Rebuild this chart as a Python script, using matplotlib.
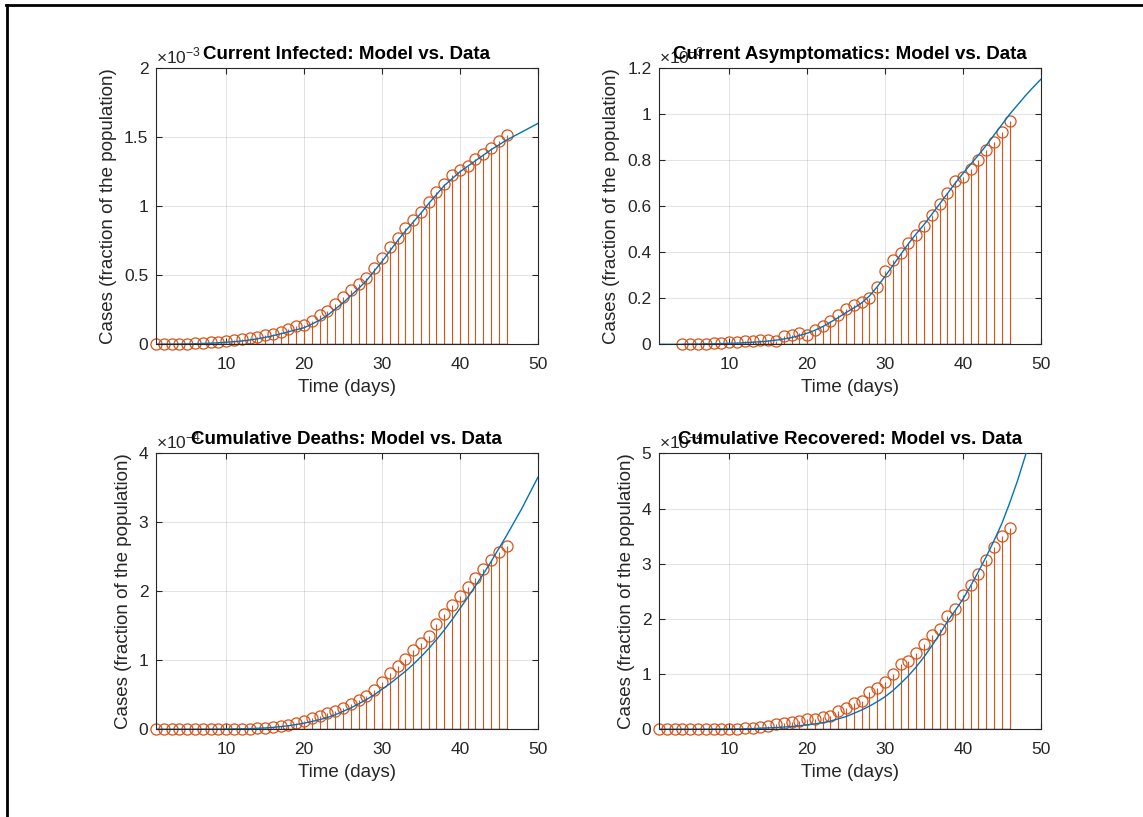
import numpy as np
import matplotlib
matplotlib.use("Agg")
import matplotlib.pyplot as plt
from matplotlib.lines import Line2D
from matplotlib.ticker import FuncFormatter

plt.rcParams['font.family'] = ['Liberation Sans', 'DejaVu Sans']
plt.rcParams['mathtext.fontset'] = 'custom'
plt.rcParams['mathtext.rm'] = 'Liberation Sans'

# Observed data (scaled units, see *_scale)
days_all = np.arange(1, 47)
days_asym = np.arange(4, 47)
days_model = np.arange(1, 51)

infected_scale = 1e-3
infected_data = [0.000, 0.000, 0.000, 0.002, 0.005, 0.006, 0.010, 0.015, 0.020, 0.025,
                 0.030, 0.040, 0.045, 0.055, 0.065, 0.077, 0.090, 0.110, 0.133, 0.140,
                 0.170, 0.210, 0.240, 0.290, 0.340, 0.390, 0.435, 0.480, 0.550, 0.625,
                 0.705, 0.770, 0.840, 0.900, 0.960, 1.030, 1.100, 1.160, 1.230, 1.260,
                 1.290, 1.340, 1.380, 1.425, 1.470, 1.520]
infected_model = [0.000, 0.001, 0.001, 0.002, 0.003, 0.004, 0.006, 0.008, 0.011, 0.015,
                  0.019, 0.024, 0.031, 0.040, 0.050, 0.062, 0.076, 0.091, 0.105, 0.120,
                  0.146, 0.175, 0.210, 0.255, 0.300, 0.352, 0.405, 0.460, 0.530, 0.600,
                  0.675, 0.750, 0.820, 0.885, 0.950, 1.020, 1.085, 1.150, 1.200, 1.250,
                  1.290, 1.330, 1.370, 1.410, 1.445, 1.480, 1.510, 1.540, 1.570, 1.600]

asym_scale = 1e-3
asym_data = [0.000, 0.001, 0.001, 0.003, 0.004, 0.006, 0.009, 0.012, 0.015, 0.016,
             0.017, 0.017, 0.016, 0.035, 0.040, 0.050, 0.040, 0.060, 0.081, 0.100,
             0.126, 0.152, 0.170, 0.183, 0.200, 0.248, 0.320, 0.367, 0.396, 0.440,
             0.475, 0.515, 0.560, 0.610, 0.657, 0.709, 0.729, 0.760, 0.803, 0.843,
             0.878, 0.922, 0.972]
asym_model = [0.000, 0.000, 0.000, 0.000, 0.001, 0.001, 0.002, 0.002, 0.003, 0.004,
              0.005, 0.007, 0.009, 0.011, 0.014, 0.018, 0.023, 0.029, 0.038, 0.048,
              0.061, 0.077, 0.096, 0.116, 0.138, 0.158, 0.180, 0.210, 0.250, 0.295,
              0.342, 0.390, 0.437, 0.480, 0.520, 0.565, 0.610, 0.655, 0.700, 0.743,
              0.783, 0.823, 0.865, 0.910, 0.955, 1.000, 1.040, 1.080, 1.117, 1.152]

deaths_scale = 1e-4
deaths_data = [0.000, 0.000, 0.000, 0.000, 0.000, 0.000, 0.003, 0.003, 0.005, 0.005,
               0.005, 0.010, 0.012, 0.015, 0.025, 0.035, 0.050, 0.070, 0.090, 0.120,
               0.160, 0.190, 0.230, 0.260, 0.310, 0.370, 0.430, 0.490, 0.570, 0.690,
               0.810, 0.920, 1.020, 1.150, 1.250, 1.360, 1.520, 1.670, 1.800, 1.930,
               2.060, 2.190, 2.320, 2.450, 2.570, 2.650]
deaths_model = [0.000, 0.000, 0.000, 0.001, 0.001, 0.001, 0.002, 0.002, 0.003, 0.004,
                0.006, 0.008, 0.011, 0.015, 0.020, 0.028, 0.040, 0.053, 0.070, 0.090,
                0.113, 0.140, 0.172, 0.212, 0.260, 0.310, 0.370, 0.430, 0.500, 0.580,
                0.660, 0.750, 0.840, 0.940, 1.050, 1.170, 1.300, 1.440, 1.590, 1.750,
                1.910, 2.080, 2.250, 2.430, 2.620, 2.810, 3.010, 3.210, 3.430, 3.650]

recov_scale = 1e-4
recov_data = [0.000, 0.000, 0.000, 0.000, 0.000, 0.000, 0.000, 0.003, 0.005, 0.005,
              0.010, 0.020, 0.025, 0.040, 0.065, 0.090, 0.115, 0.130, 0.150, 0.190,
              0.190, 0.220, 0.240, 0.340, 0.390, 0.470, 0.510, 0.680, 0.740, 0.860,
              1.010, 1.180, 1.240, 1.380, 1.550, 1.710, 1.820, 2.060, 2.180, 2.440,
              2.610, 2.810, 3.060, 3.300, 3.510, 3.640]
recov_model = [0.000, 0.000, 0.000, 0.001, 0.001, 0.002, 0.002, 0.003, 0.004, 0.005,
               0.007, 0.010, 0.014, 0.019, 0.025, 0.032, 0.041, 0.052, 0.065, 0.080,
               0.100, 0.120, 0.150, 0.190, 0.230, 0.290, 0.350, 0.420, 0.500, 0.590,
               0.700, 0.830, 0.970, 1.130, 1.310, 1.510, 1.720, 1.950, 2.150, 2.360,
               2.600, 2.860, 3.130, 3.420, 3.730, 4.100, 4.500, 4.950, 5.420, 5.920]

panels = [
    ("Current Infected: Model vs. Data", days_all, infected_data, infected_model,
     infected_scale, -3, [0, 0.5, 1, 1.5, 2], 2),
    ("Current Asymptomatics: Model vs. Data", days_asym, asym_data, asym_model,
     asym_scale, -3, [0, 0.2, 0.4, 0.6, 0.8, 1, 1.2], 1.2),
    ("Cumulative Deaths: Model vs. Data", days_all, deaths_data, deaths_model,
     deaths_scale, -4, [0, 1, 2, 3, 4], 4),
    ("Cumulative Recovered: Model vs. Data", days_all, recov_data, recov_model,
     recov_scale, -4, [0, 1, 2, 3, 4, 5], 5),
]

orange = '#D95319'
blue = '#0072BD'
dark = '#262626'

fig = plt.figure(figsize=(11.43, 8.17), dpi=100)
positions = [(0.1365, 0.5786), (0.5766, 0.5786), (0.1365, 0.1073), (0.5766, 0.1073)]

for (title, days, data, model, scale, expo, yt, ymax), (left, bottom) in zip(panels, positions):
    ax = fig.add_axes([left, bottom, 0.334, 0.3378])
    data = np.array(data) * scale
    model = np.array(model) * scale

    markerline, stemlines, baseline = ax.stem(days, data)
    markerline.set_markerfacecolor('none')
    markerline.set_markeredgecolor(orange)
    markerline.set_markersize(8)
    markerline.set_markeredgewidth(0.9)
    markerline.set_clip_on(False)
    stemlines.set_color(orange)
    stemlines.set_linewidth(0.8)
    baseline.set_color(dark)
    baseline.set_linewidth(1.0)

    ax.plot(days_model, model, color=blue, lw=1.0, zorder=4)

    ax.set_xlim(1, 50)
    ax.set_ylim(0, ymax * scale)
    ax.set_xticks([10, 20, 30, 40, 50])
    ax.set_yticks(np.array(yt) * scale)
    ax.yaxis.set_major_formatter(FuncFormatter(lambda v, p, s=scale: f"{v / s:g}"))

    ax.grid(True, color=dark, alpha=0.15, lw=0.6)
    ax.set_axisbelow(True)
    for sp in ax.spines.values():
        sp.set_color(dark)
        sp.set_linewidth(0.8)
    ax.tick_params(direction='in', length=4, width=0.8, color=dark, labelcolor=dark,
                   labelsize=12.5, top=True, right=True)
    ax.tick_params(axis='x', pad=9)
    ax.tick_params(axis='y', pad=5.5)

    ax.set_xlabel("Time (days)", fontsize=13.5, color=dark, labelpad=5)
    ax.set_ylabel("Cases (fraction of the population)", fontsize=13.5, color=dark, labelpad=5)
    ax.text(0, 1.008, r'$\times10^{%d}$' % expo, transform=ax.transAxes,
            ha='left', va='bottom', fontsize=12.5, color=dark)
    ax.set_title(title, fontsize=13.5, fontweight='bold', pad=7)

# left and top frame lines
fig.add_artist(Line2D([0.0065, 0.0065], [0, 0.994], transform=fig.transFigure, color='black', lw=2))
fig.add_artist(Line2D([0.0055, 1.0], [0.9935, 0.9935], transform=fig.transFigure, color='black', lw=2))

fig.savefig("out.png", dpi=100)
